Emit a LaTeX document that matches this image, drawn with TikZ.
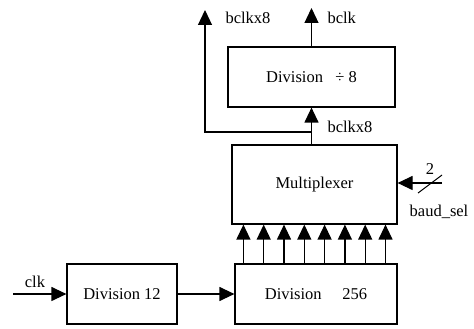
\documentclass[tikz,border=0pt]{standalone}
\usepackage{fontspec}
\setmainfont{Liberation Serif}
\usetikzlibrary{arrows.meta,calc}
\tikzset{
	block/.style={draw, line width=1.2pt, inner sep=0pt},
	arr/.style={line width=1.2pt, -{Triangle[length=15pt,width=14pt]}},
}
\begin{document}
\begin{tikzpicture}[x=1pt, y=1pt, font=\fontsize{16.5}{19}\selectfont]
	\useasboundingbox (0,0) rectangle (474,329);

	\draw (311.5,252) node[block, minimum width=167pt, minimum height=60pt] (div8) {Division \ \ ÷ 8};
	\draw (314.5,144.5) node[block, minimum width=165pt, minimum height=79pt] (mux) {Multiplexer};
	\draw (316,35) node[block, minimum width=162pt, minimum height=60pt] (div256) {Division \quad 256};
	\draw (122,35) node[block, minimum width=110pt, minimum height=60pt] (div12) {Division 12};

	\coordinate (clkin) at (13,35);
	\coordinate (outx8) at (205,319);
	\coordinate (outclk) at (311.5,321);
	\coordinate (baudin) at (442,146);
	\coordinate (br) at (311.5,197);

	\draw[arr] (clkin) -- (div12.west);
	\draw[arr] (div12.east) -- (div256.west);
	\foreach \i in {0,...,7}
		\draw[arr] ($(div256.north west)+(9+20.3*\i,0)$) coordinate (b) -- (b |- mux.south);
	\draw[arr] (div8.south |- mux.north) -- (div8.south);
	\draw[arr] (br) -| (outx8);
	\draw[arr] (div8.north) -- (outclk);
	\draw[arr] (baudin) -- (baudin -| mux.east);
	\draw[line width=1pt] (418,136) -- (442,154);

	\draw (35,47) node (lclk) {clk};
	\draw (222,311) node[anchor=west] (lx8a) {bclkx8};
	\draw (324,311) node[anchor=west] (lbclk) {bclk};
	\draw (324,202) node[anchor=west] (lx8b) {bclkx8};
	\draw (430,160) node (lsel2) {2};
	\draw (439,117) node (lsel) {baud\_sel};
\end{tikzpicture}
\end{document}
